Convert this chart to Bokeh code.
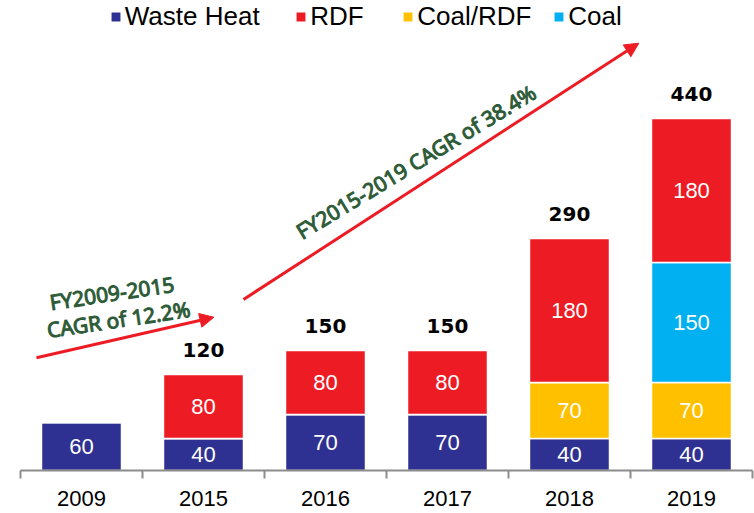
from bokeh.plotting import figure
from bokeh.models import Range1d, ColumnDataSource, Legend, LegendItem, Arrow, NormalHead, Label
from bokeh.embed import file_html
from bokeh.resources import INLINE
from bokeh.core.properties import value

# ---------------- data ----------------
years = ["2009", "2015", "2016", "2017", "2018", "2019"]
waste_heat = [60, 40, 70, 70, 40, 40]
coal_rdf = [0, 0, 0, 0, 70, 70]
coal = [0, 0, 0, 0, 0, 150]
rdf = [0, 80, 80, 80, 180, 180]
show_total = [False, True, True, True, True, True]

series_names = ["Waste Heat", "Coal/RDF", "Coal", "RDF"]          # stacking order, bottom -> top
series_values = [waste_heat, coal_rdf, coal, rdf]
series_colors = ["#2E3192", "#FFC000", "#00B0F0", "#ED1C24"]
legend_order = ["Waste Heat", "RDF", "Coal/RDF", "Coal"]

note_low = ["FY2009-2015", "CAGR of 12.2%"]
note_high = "FY2015-2019 CAGR of 38.4%"

# ---------------- layout / style ----------------
W, H = 754, 513
X_RANGE = (-0.1639, 6.0164)
Y_RANGE = (-53.75, 587.5)
BAR_W = 0.656
RED = "#ED1C24"
GREEN = "#2D5B37"
AXIS_GREY = "#8C8C8C"
TICK_LEN = 10.0
YEAR_Y = -35.5
TOTAL_OFFSET = -25
legend_pos = {"Waste Heat": (108.8, 481), "RDF": (294.3, 481), "Coal/RDF": (401.3, 481), "Coal": (552.3, 481)}
arrow_low = (0.131, 140.9, 1.585, 191.6)
arrow_high = (1.828, 213.8, 5.068, 534.1)
note_low_pos = [(0.749, 221.8), (0.803, 188.8)]
note_low_angle = 0.148
note_high_pos = (3.242, 386.0)
note_high_angle = 0.545

p = figure(width=W, height=H, x_range=Range1d(*X_RANGE), y_range=Range1d(*Y_RANGE),
           output_backend="svg", toolbar_location=None,
           x_axis_location=None, y_axis_location=None, min_border=0)
p.outline_line_color = None
p.grid.grid_line_color = None
p.background_fill_color = "white"
p.border_fill_color = "white"

xc = [i + 0.5 for i in range(len(years))]
keys = ["s%d" % i for i in range(len(series_names))]
data = {"x": xc, "year": years}
for k, v in zip(keys, series_values):
    data[k] = v
src = ColumnDataSource(data)

renderers = p.vbar_stack(keys, x="x", width=BAR_W, source=src,
                         fill_color=series_colors, line_color="white", line_width=1.5)
rmap = dict(zip(series_names, renderers))

# segment labels
lx, ly, lt = [], [], []
for i in range(len(years)):
    base = 0
    for vals in series_values:
        v = vals[i]
        if v > 0:
            lx.append(xc[i]); ly.append(base + v / 2); lt.append(str(v))
        base += v
p.text(x=lx, y=ly, text=lt, text_color="white", text_font=value("Liberation Sans"),
       text_font_size="22px", text_align="center", text_baseline="middle")

# totals
tx, ty, tt = [], [], []
for i in range(len(years)):
    tot = sum(vals[i] for vals in series_values)
    if show_total[i]:
        tx.append(xc[i]); ty.append(tot); tt.append(str(tot))
p.text(x=tx, y=ty, text=tt, y_offset=TOTAL_OFFSET, text_color="black",
       text_font=value("DejaVu Sans"), text_font_style="bold", text_font_size="20px",
       text_align="center", text_baseline="middle")

# category axis (baseline, boundary ticks, year labels)
n = len(years)
p.segment(x0=[0], y0=[0], x1=[n], y1=[0], line_color=AXIS_GREY, line_width=2)
bounds = list(range(n + 1))
p.segment(x0=bounds, y0=[0] * (n + 1), x1=bounds, y1=[-TICK_LEN] * (n + 1),
          line_color=AXIS_GREY, line_width=2)
p.text(x=xc, y=[YEAR_Y] * n, text=years, text_color="black", text_font=value("Liberation Sans"),
       text_font_size="22px", text_align="center", text_baseline="middle")

# legends
for name in legend_order:
    leg = Legend(items=[LegendItem(label=name, renderers=[rmap[name]])],
                 location=legend_pos[name], orientation="horizontal",
                 padding=0, margin=0, border_line_color=None, background_fill_alpha=0,
                 glyph_width=13, glyph_height=13, label_standoff=3,
                 label_text_font="Liberation Sans", label_text_font_size="26px",
                 label_text_color="black")
    p.add_layout(leg)

# CAGR arrows
for (x0, y0, x1, y1) in (arrow_low, arrow_high):
    p.add_layout(Arrow(end=NormalHead(size=14, fill_color=RED, line_color=RED),
                       x_start=x0, y_start=y0, x_end=x1, y_end=y1,
                       line_color=RED, line_width=3))

for txt, (x, y) in zip(note_low, note_low_pos):
    p.add_layout(Label(x=x, y=y, text=txt, angle=note_low_angle, text_align="center",
                       text_baseline="middle", text_color=GREEN, text_font="Noto Sans",
                       text_font_size="21px", text_outline_color=GREEN))
p.add_layout(Label(x=note_high_pos[0], y=note_high_pos[1], text=note_high, angle=note_high_angle,
                   text_align="center", text_baseline="middle", text_color=GREEN,
                   text_font="Noto Sans", text_font_size="21px", text_outline_color=GREEN))

open("out.html", "w").write(file_html(p, INLINE))
